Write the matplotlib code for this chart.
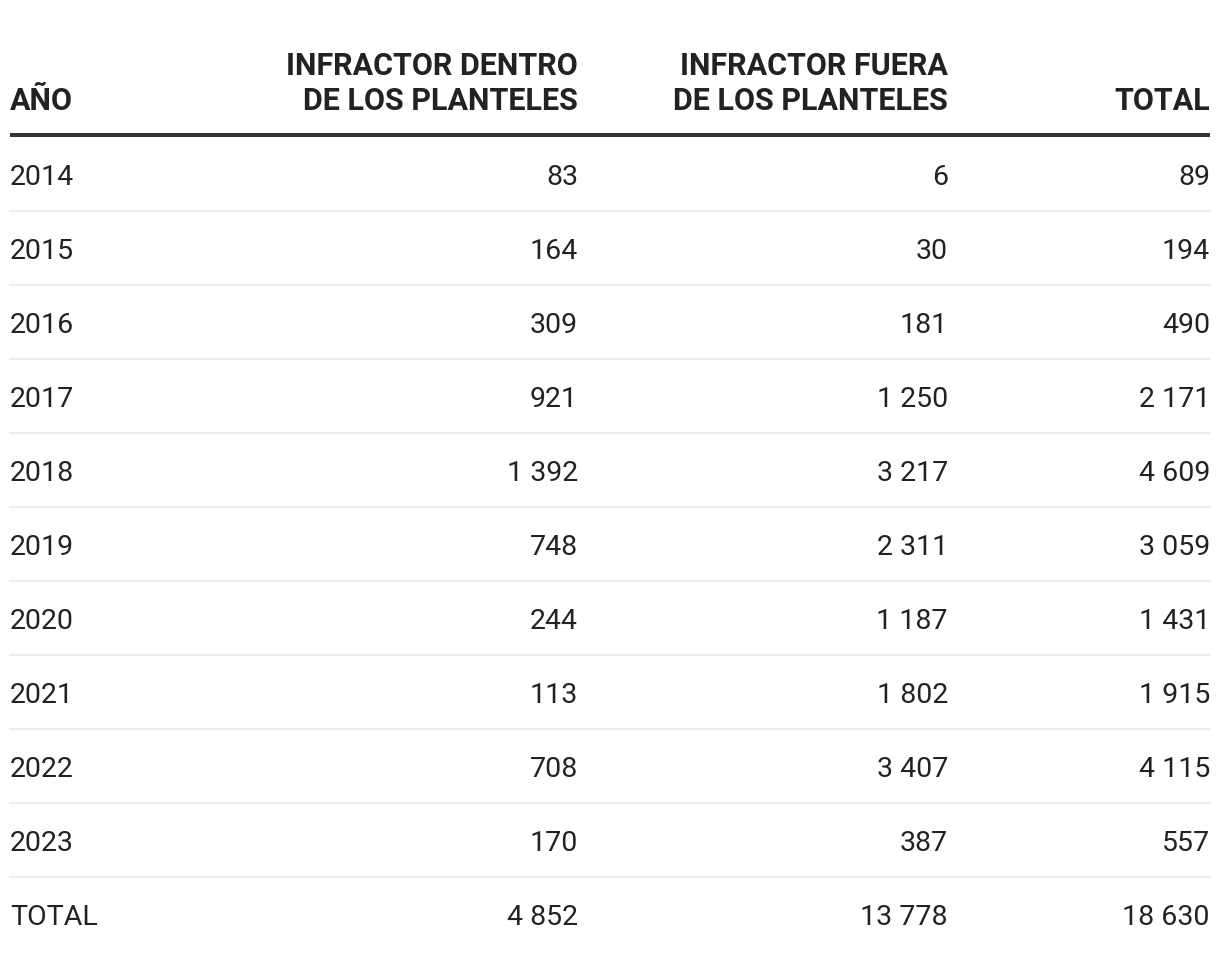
import matplotlib
matplotlib.use("Agg")
import matplotlib.pyplot as plt

# table data
years = ["2014", "2015", "2016", "2017", "2018", "2019", "2020", "2021", "2022", "2023"]
dentro = [83, 164, 309, 921, 1392, 748, 244, 113, 708, 170]
fuera = [6, 30, 181, 1250, 3217, 2311, 1187, 1802, 3407, 387]
total = [89, 194, 490, 2171, 4609, 3059, 1431, 1915, 4115, 557]
total_row = ["TOTAL", 4852, 13778, 18630]

headers = [["AÑO"],
           ["INFRACTOR DENTRO", "DE LOS PLANTELES"],
           ["INFRACTOR FUERA", "DE LOS PLANTELES"],
           ["TOTAL"]]


def fmt(n):
    # thousands separated by a space
    return f"{n:,}".replace(",", " ")


plt.rcParams['font.family'] = ['Roboto', 'DejaVu Sans']

W, H = 1220, 960
fig = plt.figure(figsize=(W / 100, H / 100), dpi=100)
ax = fig.add_axes([0, 0, 1, 1])
ax.set_xlim(0, W)
ax.set_ylim(H, 0)
ax.axis("off")

left = 10
right_edges = [578, 948, 1210]
txt = "#222222"
fs = 20.5
hfs = 22

# header, lines stacked from the bottom up
for j, lines in enumerate(headers):
    x = left if j == 0 else right_edges[j - 1]
    ha = "left" if j == 0 else "right"
    for k, line in enumerate(reversed(lines)):
        ax.text(x, 110 - 35 * k, line, ha=ha, va="baseline", fontsize=hfs,
                fontweight="bold", color=txt)

ax.plot([left, 1210], [135, 135], color="#333333", lw=2.9, solid_capstyle="butt")

row_h = 74
rows = [[y, fmt(a), fmt(b), fmt(c)] for y, a, b, c in zip(years, dentro, fuera, total)]
rows.append([total_row[0]] + [fmt(v) for v in total_row[1:]])

for i, r in enumerate(rows):
    base = 185 + row_h * i
    ax.text(left, base, r[0], ha="left", va="baseline", fontsize=fs, color=txt)
    for x, v in zip(right_edges, r[1:]):
        ax.text(x, base, v, ha="right", va="baseline", fontsize=fs, color=txt)
    if i < len(rows) - 1:
        yl = 211 + row_h * i
        ax.plot([left, 1210], [yl, yl], color="#e9e9e9", lw=1.2)

fig.savefig("out.png", dpi=100, facecolor="white")
